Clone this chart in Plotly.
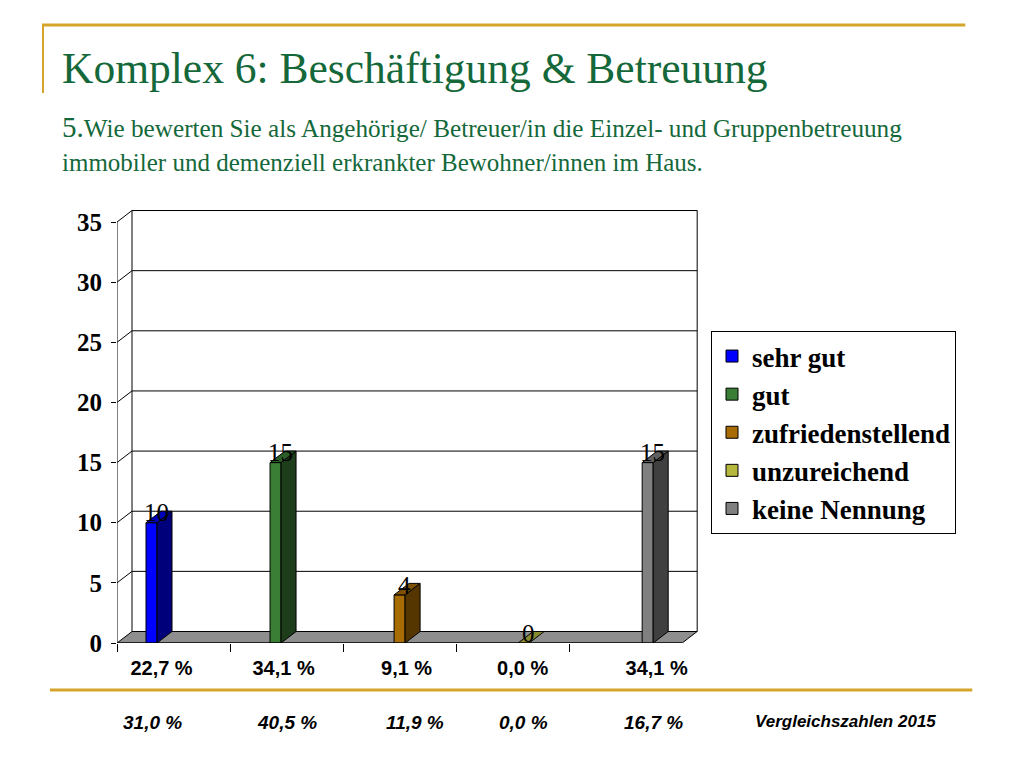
import plotly.graph_objects as go

# ---------------- data ----------------
series_names = ["sehr gut", "gut", "zufriedenstellend", "unzureichend", "keine Nennung"]
counts = [10, 15, 4, 0, 15]
pct_labels = ["22,7 %", "34,1 %", "9,1 %", "0,0 %", "34,1 %"]
pct_2015 = ["31,0 %", "40,5 %", "11,9 %", "0,0 %", "16,7 %"]
compare_label = "Vergleichszahlen 2015"
y_ticks = [0, 5, 10, 15, 20, 25, 30, 35]
title_text = "Komplex 6: Beschäftigung & Betreuung"
question_no = "5."
question_line1 = "Wie bewerten Sie als Angehörige/ Betreuer/in die Einzel- und Gruppenbetreuung"
question_line2 = "immobiler und demenziell erkrankter Bewohner/innen im Haus."

# ---------------- styles ----------------
front_colors = ["#0000ff", "#3a7d35", "#a86c05", "#b5b83c", "#808080"]
side_colors = ["#00007a", "#1e3e1b", "#553600", "#5b5c1e", "#404040"]
top_colors = ["#0000b8", "#2c5c28", "#7e5103", "#888a2d", "#606060"]
gold = "#d4a52a"
title_green = "#14683a"
narrow_sans = "Liberation Sans Narrow, Arial Narrow, Liberation Sans"
tick_label_shift_px = [-12, -3, 7, 10, 31]   # label placement in the slide
cmp_x_px = [152, 287, 415, 523, 653]          # comparison row placement

OFF = 8  # page body margin
W_FIG, H_FIG = 1024 - OFF, 768 - OFF
L, T = 117 - OFF, 210 - OFF
X_RANGE = [-0.5, 4.64]
CAT_PX = 113.0
PW = (X_RANGE[1] - X_RANGE[0]) * CAT_PX
Y_RANGE = [0, 36]
PH = 433.0
R = W_FIG - L - PW
B = H_FIG - T - PH
px_per_unit = PH / (Y_RANGE[1] - Y_RANGE[0])

bargap = 0.513
n_series = len(series_names)
slot_w = (1 - bargap) / n_series
dx = 15 / CAT_PX           # depth in category units
dy = 11.5 / px_per_unit    # depth in value units


def px2paper_x(px):
    return (px - OFF - L) / PW


def py2paper_y(py):
    return (H_FIG - B - (py - OFF)) / PH


fig = go.Figure()
positions = list(range(len(pct_labels)))
for j, name in enumerate(series_names):
    yvals = [counts[j] if i == j else None for i in positions]
    fig.add_trace(go.Bar(
        x=positions, y=yvals, name=name, legendgroup=name,
        marker=dict(color=front_colors[j], line=dict(color="black", width=1)),
        hoverinfo="skip",
    ))

shapes = []
x_left, x_right = -0.5, 4.5
# back wall
shapes.append(dict(type="rect", xref="x", yref="y", layer="below",
                   x0=x_left + dx, x1=x_right + dx, y0=dy, y1=y_ticks[-1] + dy,
                   line=dict(color="black", width=1), fillcolor="white"))
# floor
shapes.append(dict(type="path", xref="x", yref="y", layer="below",
                   path=f"M{x_left},0 L{x_right},0 L{x_right+dx},{dy} L{x_left+dx},{dy} Z",
                   fillcolor="#8e8e8e", line=dict(color="black", width=1)))
# gridlines on wall + side diagonals
for v in y_ticks[1:]:
    shapes.append(dict(type="path", xref="x", yref="y", layer="below",
                       path=f"M{x_left},{v} L{x_left+dx},{v+dy} L{x_right+dx},{v+dy}",
                       line=dict(color="black", width=1)))
# y axis line
shapes.append(dict(type="line", xref="x", yref="y", layer="above",
                   x0=x_left, x1=x_left, y0=0, y1=y_ticks[-1],
                   line=dict(color="black", width=1)))

# 3D faces of the bars
annotations = []
for j in range(n_series):
    i = j
    v = counts[j]
    cx = i - (1 - bargap) / 2 + (j + 0.5) * slot_w
    x0, x1 = cx - slot_w / 2, cx + slot_w / 2
    if v > 0:
        shapes.append(dict(type="path", xref="x", yref="y", layer="above",
                           path=f"M{x1},0 L{x1+dx},{dy} L{x1+dx},{v+dy} L{x1},{v} Z",
                           fillcolor=side_colors[j], line=dict(color="black", width=1)))
    shapes.append(dict(type="path", xref="x", yref="y", layer="above",
                       path=f"M{x0},{v} L{x0+dx},{v+dy} L{x1+dx},{v+dy} L{x1},{v} Z",
                       fillcolor=top_colors[j], line=dict(color="black", width=1)))
    annotations.append(dict(x=cx + dx * 0.3, y=v + dy * 0.85, xref="x", yref="y",
                            text=str(v), showarrow=False, xanchor="center", yanchor="middle",
                            font=dict(family="Liberation Serif", size=25, color="black")))

# gold decorative lines
shapes.append(dict(type="line", xref="paper", yref="paper",
                   x0=px2paper_x(42), x1=px2paper_x(965), y0=py2paper_y(25), y1=py2paper_y(25),
                   line=dict(color=gold, width=3)))
shapes.append(dict(type="line", xref="paper", yref="paper",
                   x0=px2paper_x(43), x1=px2paper_x(43), y0=py2paper_y(24), y1=py2paper_y(93),
                   line=dict(color=gold, width=2)))
shapes.append(dict(type="line", xref="paper", yref="paper",
                   x0=px2paper_x(50), x1=px2paper_x(972), y0=py2paper_y(690), y1=py2paper_y(690),
                   line=dict(color=gold, width=3)))

# title texts
annotations.append(dict(x=px2paper_x(60), y=py2paper_y(68), xref="paper", yref="paper",
                        text=title_text, showarrow=False, xanchor="left", yanchor="middle",
                        font=dict(family="Liberation Serif", size=43.5, color=title_green)))
annotations.append(dict(x=px2paper_x(60), y=py2paper_y(127), xref="paper", yref="paper",
                        text=f"<span style='font-size:29px'>{question_no}</span>{question_line1}",
                        showarrow=False, xanchor="left", yanchor="middle",
                        font=dict(family="Liberation Serif", size=25.2, color=title_green)))
annotations.append(dict(x=px2paper_x(60), y=py2paper_y(162), xref="paper", yref="paper",
                        text=question_line2, showarrow=False, xanchor="left", yanchor="middle",
                        font=dict(family="Liberation Serif", size=25, color=title_green)))

# comparison row
for k, t in enumerate(pct_2015):
    annotations.append(dict(x=px2paper_x(cmp_x_px[k]), y=py2paper_y(722), xref="paper", yref="paper",
                            text=f"<b><i>{t}</i></b>", showarrow=False, xanchor="center", yanchor="middle",
                            font=dict(family=narrow_sans, size=19, color="black")))
annotations.append(dict(x=px2paper_x(845), y=py2paper_y(721), xref="paper", yref="paper",
                        text=f"<b><i>{compare_label}</i></b>", showarrow=False, xanchor="center",
                        yanchor="middle",
                        font=dict(family=narrow_sans, size=17, color="black")))

fig.update_layout(
    width=W_FIG, height=H_FIG,
    margin=dict(l=L, r=R, t=T, b=B, pad=0),
    paper_bgcolor="white", plot_bgcolor="white",
    barmode="group", bargap=bargap, bargroupgap=0,
    shapes=shapes, annotations=annotations,
    showlegend=True,
    legend=dict(xref="container", yref="container",
                x=(711 - OFF) / W_FIG, y=1 - (331 - OFF) / H_FIG,
                xanchor="left", yanchor="top", bordercolor="black", borderwidth=1,
                bgcolor="white",
                font=dict(family="Liberation Serif", size=27, color="black", weight="bold"),
                traceorder="normal", tracegroupgap=14, itemclick=False, itemdoubleclick=False),
    xaxis=dict(range=X_RANGE,
               tickvals=[p + s / CAT_PX for p, s in zip(positions, tick_label_shift_px)],
               ticktext=[f"<b>{t}</b>" for t in pct_labels],
               ticks="", showgrid=False, zeroline=False, showline=False,
               ticklabelstandoff=11,
               tickfont=dict(family=narrow_sans, size=20, color="black"),
               minor=dict(tickvals=[p - 0.5 for p in positions], ticks="outside",
                          ticklen=8, tickcolor="black"),
               fixedrange=True),
    yaxis=dict(range=Y_RANGE, tickvals=y_ticks, ticktext=[f"<b>{v}</b>" for v in y_ticks],
               ticks="outside", ticklen=5, tickcolor="black", showgrid=False,
               zeroline=False, showline=False, ticklabelstandoff=4,
               tickfont=dict(family="Liberation Serif", size=25, color="black"),
               fixedrange=True),
)
# bottom front edge of floor (x axis line)
fig.add_shape(type="line", xref="x", yref="y", x0=x_left, x1=x_right, y0=0, y1=0,
              line=dict(color="black", width=1), layer="above")

fig.write_html("out.html")
